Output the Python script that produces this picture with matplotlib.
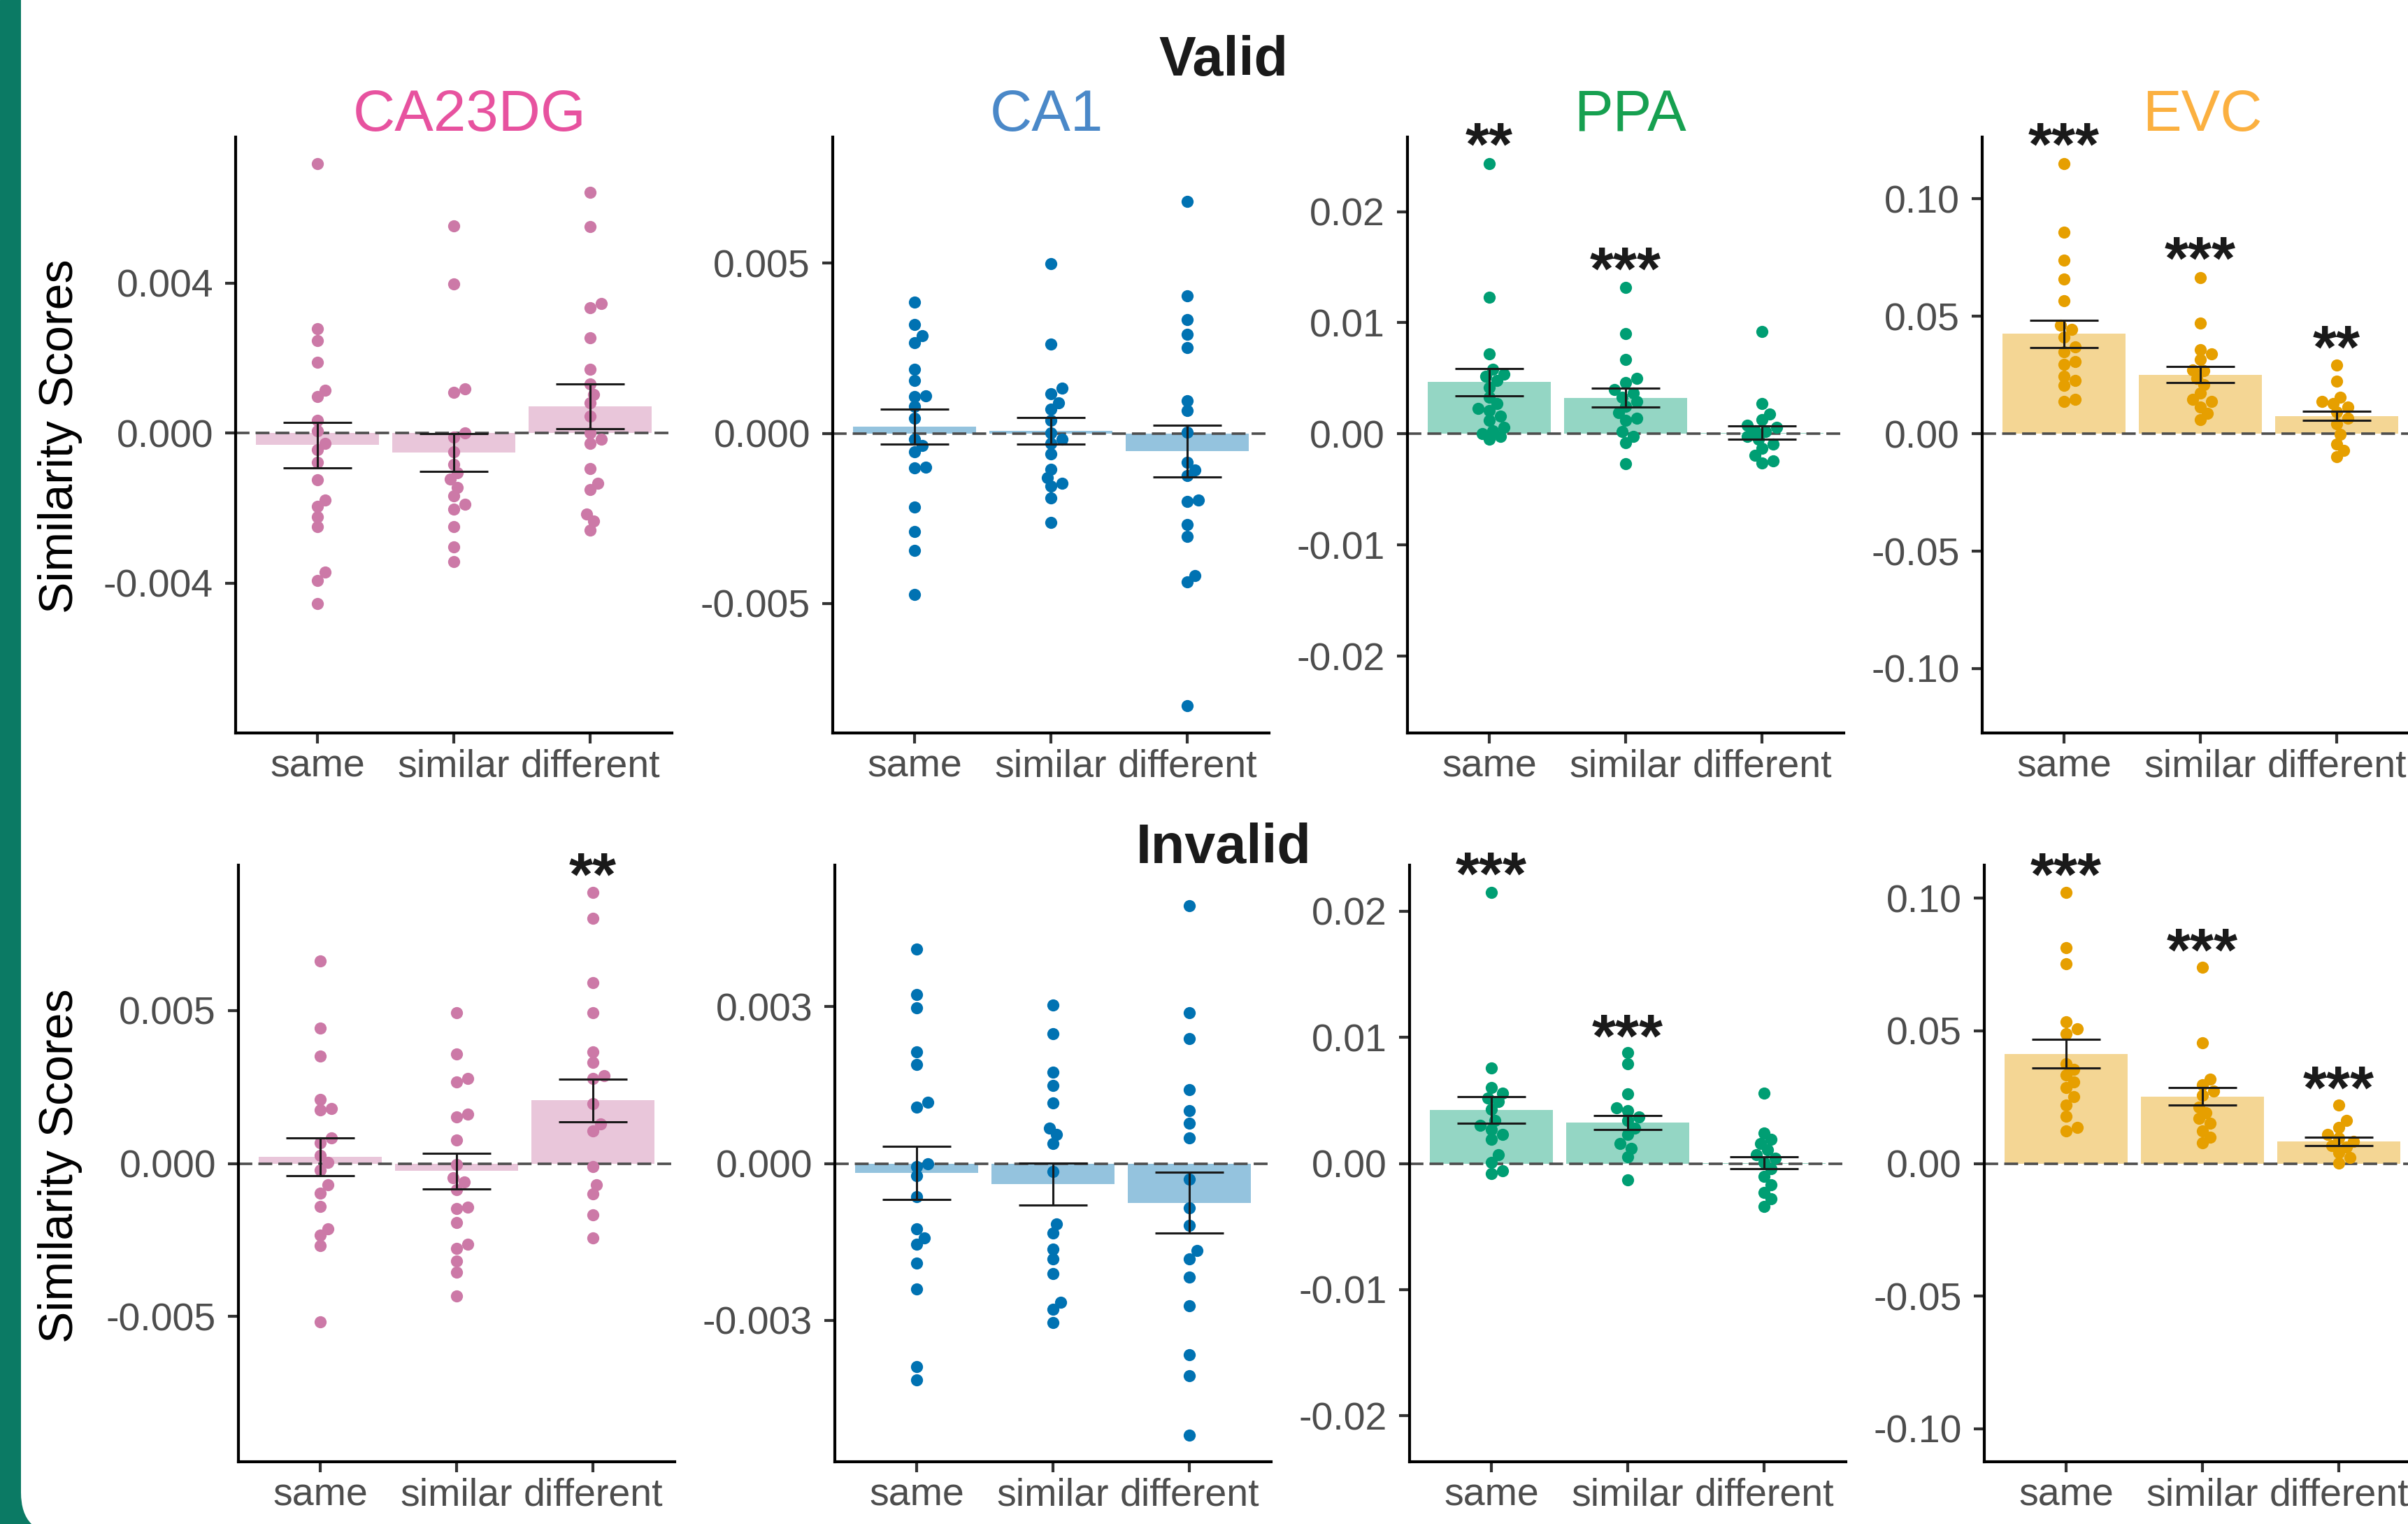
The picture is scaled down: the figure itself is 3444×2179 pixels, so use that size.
import numpy as np
import matplotlib
matplotlib.use('Agg')
import matplotlib.pyplot as plt
from matplotlib.patches import Rectangle, FancyBboxPatch

plt.rcParams['font.family'] = ['Liberation Sans', 'DejaVu Sans']
plt.rcParams['axes.unicode_minus'] = False

W, H, DPI = 3444, 2179, 100

conditions = ['same', 'similar', 'different']
regions = ['CA23DG', 'CA1', 'PPA', 'EVC']
title_colors = ['#E7529F', '#4A88C8', '#16A050', '#FBB040']
dot_colors = ['#CC79A7', '#0072B2', '#009E73', '#E69F00']

# ---- Valid ----
valid_ca23dg = [
    [0.00719, 0.00279, 0.00247, 0.0019, 0.00114, 0.00097, 0.00035, 0.00007, -0.00027, -0.00044,
     -0.00078, -0.00125, -0.00179, -0.00196, -0.00224, -0.0025, -0.00371, -0.00393, -0.00455],
    [0.00553, 0.00398, 0.00119, 0.00108, 0.00001, -0.0001, -0.0005, -0.00083, -0.00106, -0.00123,
     -0.00145, -0.00168, -0.0019, -0.00202, -0.0025, -0.00303, -0.00343],
    [0.00643, 0.00551, 0.00345, 0.00334, 0.00255, 0.0017, 0.00131, 0.00103, 0.0008, 0.00046, 0.0,
     -0.00016, -0.00027, -0.00095, -0.00134, -0.00151, -0.00216, -0.00235, -0.00258],
]
valid_ca23dg_mean = [-0.00032, -0.00052, 0.00072]
valid_ca23dg_se = [0.0006, 0.0005, 0.0006]

valid_ca1 = [
    [0.00385, 0.0032, 0.00286, 0.00266, 0.00188, 0.00155, 0.00111, 0.00107, 0.0008, 0.00045,
     -0.00017, -0.00036, -0.00055, -0.00099, -0.00102, -0.00217, -0.00288, -0.00344, -0.00473],
    [0.00499, 0.00262, 0.00132, 0.00117, 0.00089, 0.0007, 0.00039, 0.00001, -0.00017, -0.0003,
     -0.00061, -0.00105, -0.0013, -0.00146, -0.00155, -0.0019, -0.00261],
    [0.00681, 0.00403, 0.00334, 0.00291, 0.00251, 0.00095, 0.00067, 0.00004, -0.00086, -0.00107,
     -0.00125, -0.00195, -0.002, -0.00267, -0.00302, -0.00417, -0.00436, -0.00799],
]
valid_ca1_mean = [0.00019, 0.00008, -0.00053]
valid_ca1_se = [0.00051, 0.00039, 0.00076]

valid_ppa = [
    [0.0243, 0.0123, 0.0072, 0.0058, 0.0054, 0.0052, 0.0048, 0.0042, 0.0033, 0.0027, 0.0023,
     0.0021, 0.0016, 0.0012, 0.0006, 0.0003, 0.0, -0.0002, -0.0005],
    [0.0132, 0.009, 0.0067, 0.005, 0.0046, 0.004, 0.0037, 0.0033, 0.0029, 0.0025, 0.0019,
     0.0014, 0.0012, 0.0002, -0.0002, -0.0008, -0.0027],
    [0.0092, 0.0027, 0.0018, 0.0013, 0.0008, 0.0006, 0.0003, 0.0002, -0.0002, -0.0005,
     -0.0009, -0.0013, -0.0019, -0.0024, -0.0026],
]
valid_ppa_mean = [0.00465, 0.00325, 0.0001]
valid_ppa_se = [0.00125, 0.00085, 0.0006]

valid_evc = [
    [0.1149, 0.0857, 0.074, 0.0659, 0.0566, 0.0461, 0.0443, 0.041, 0.0371, 0.0349, 0.0308,
     0.0295, 0.0245, 0.0227, 0.0205, 0.0146, 0.0137],
    [0.0663, 0.0472, 0.0357, 0.0339, 0.0317, 0.0272, 0.0267, 0.0236, 0.0209, 0.0173, 0.0146,
     0.0137, 0.0115, 0.0086, 0.0061],
    [0.0292, 0.0223, 0.0155, 0.0137, 0.0128, 0.0115, 0.0092, 0.0065, 0.0043, -0.0004,
     -0.0043, -0.007, -0.0097],
]
valid_evc_mean = [0.0425, 0.0252, 0.0076]
valid_evc_se = [0.0058, 0.0033, 0.002]

# ---- Invalid ----
invalid_ca23dg = [
    [0.00662, 0.00442, 0.00352, 0.0021, 0.0018, 0.00174, 0.00084, 0.00067, 0.00027, 0.00004,
     -0.00022, -0.0007, -0.00097, -0.00141, -0.00213, -0.00235, -0.00268, -0.00517],
    [0.00492, 0.00357, 0.00277, 0.00267, 0.00162, 0.00151, 0.00076, -0.00003, -0.00048, -0.0006,
     -0.00085, -0.00142, -0.00148, -0.00193, -0.00265, -0.00277, -0.00318, -0.00355, -0.00433],
    [0.00886, 0.00802, 0.00592, 0.00492, 0.00364, 0.0033, 0.00286, 0.00277, 0.00196, 0.00129,
     0.00106, -0.0001, -0.0007, -0.001, -0.00168, -0.00243],
]
invalid_ca23dg_mean = [0.00022, -0.00025, 0.00206]
invalid_ca23dg_se = [0.00062, 0.00058, 0.0007]

invalid_ca1 = [
    [0.00409, 0.00323, 0.00298, 0.00213, 0.00189, 0.00117, 0.00108, 0.0, -0.00006, -0.00024,
     -0.00063, -0.00125, -0.00142, -0.00155, -0.0019, -0.0024, -0.00388, -0.00414],
    [0.00303, 0.00248, 0.00175, 0.00149, 0.00115, 0.00068, 0.00055, 0.00038, -0.00015, -0.00116,
     -0.00133, -0.00164, -0.00182, -0.0021, -0.00265, -0.00278, -0.00304],
    [0.00492, 0.00288, 0.00239, 0.00141, 0.00101, 0.00077, 0.00049, -0.0003, -0.00085, -0.00118,
     -0.00166, -0.00182, -0.00217, -0.00272, -0.00366, -0.00405, -0.00519],
]
invalid_ca1_mean = [-0.00018, -0.00039, -0.00075]
invalid_ca1_se = [0.00051, 0.0004, 0.00058]

invalid_ppa = [
    [0.0215, 0.0076, 0.006, 0.0056, 0.0052, 0.0049, 0.0043, 0.0034, 0.003, 0.0027, 0.0023,
     0.0019, 0.0007, 0.0001, -0.0006, -0.0008],
    [0.0088, 0.0079, 0.0055, 0.0044, 0.0042, 0.0037, 0.0034, 0.0028, 0.0023, 0.0016, 0.0012,
     0.0005, -0.0013],
    [0.0056, 0.0024, 0.0019, 0.0016, 0.0011, 0.0007, 0.0004, 0.0001, -0.0004, -0.001, -0.0017,
     -0.0023, -0.0028, -0.0034],
]
invalid_ppa_mean = [0.00425, 0.00325, 0.00005]
invalid_ppa_se = [0.00105, 0.00055, 0.00045]

invalid_evc = [
    [0.1022, 0.0813, 0.0754, 0.0533, 0.0507, 0.049, 0.0377, 0.0355, 0.0334, 0.0308, 0.0285,
     0.0251, 0.0221, 0.0178, 0.0135, 0.0123],
    [0.074, 0.0455, 0.0317, 0.0296, 0.0273, 0.0256, 0.0213, 0.0192, 0.017, 0.0152, 0.0123,
     0.01, 0.0078],
    [0.0221, 0.0161, 0.0135, 0.0109, 0.0095, 0.0083, 0.0066, 0.0061, 0.004, 0.0022, 0.0002],
]
invalid_evc_mean = [0.0414, 0.0252, 0.0083]
invalid_evc_se = [0.0053, 0.0033, 0.0017]

# significance stars (label, height in data units) per condition
valid_stars = [
    [None, None, None],
    [None, None, None],
    [('**', 0.0273), ('***', 0.0161), None],
    [('***', 0.1290), ('***', 0.0806), ('**', 0.0428)],
]
invalid_stars = [
    [None, None, ('**', 0.00990)],
    [None, None, None],
    [('***', 0.0241), ('***', 0.0112), None],
    [('***', 0.1142), ('***', 0.0856), ('***', 0.0337)],
]

valid_ticks = [
    [-0.004, 0.0, 0.004], [-0.005, 0.0, 0.005],
    [-0.02, -0.01, 0.0, 0.01, 0.02], [-0.10, -0.05, 0.0, 0.05, 0.10],
]
invalid_ticks = [
    [-0.005, 0.0, 0.005], [-0.003, 0.0, 0.003],
    [-0.02, -0.01, 0.0, 0.01, 0.02], [-0.10, -0.05, 0.0, 0.05, 0.10],
]
tick_fmt = ['%.3f', '%.3f', '%.2f', '%.2f']
valid_ylim = [(-0.0080, 0.0079), (-0.0088, 0.0087), (-0.0269, 0.0267), (-0.1274, 0.1263)]
invalid_ylim = [(-0.00975, 0.00975), (-0.0057, 0.0057), (-0.02366, 0.02366), (-0.1125, 0.1125)]

rows = [
    dict(data=[valid_ca23dg, valid_ca1, valid_ppa, valid_evc],
         mean=[valid_ca23dg_mean, valid_ca1_mean, valid_ppa_mean, valid_evc_mean],
         se=[valid_ca23dg_se, valid_ca1_se, valid_ppa_se, valid_evc_se],
         stars=valid_stars, ticks=valid_ticks, ylim=valid_ylim,
         lefts=[337, 1191, 2013, 2835], top=196, bottom=1048),
    dict(data=[invalid_ca23dg, invalid_ca1, invalid_ppa, invalid_evc],
         mean=[invalid_ca23dg_mean, invalid_ca1_mean, invalid_ppa_mean, invalid_evc_mean],
         se=[invalid_ca23dg_se, invalid_ca1_se, invalid_ppa_se, invalid_evc_se],
         stars=invalid_stars, ticks=invalid_ticks, ylim=invalid_ylim,
         lefts=[341, 1194, 2016, 2838], top=1237, bottom=2090),
]
AX_W = 624
DOT = 17.5  # dot diameter in px


def swarm(vals, px_per_y, px_per_x):
    # simple beeswarm: push points sideways until they do not overlap much
    vals = np.asarray(vals)
    order = np.argsort(vals)
    placed = []
    offs = np.zeros(len(vals))
    step = DOT * 0.3
    for i in order:
        y = vals[i] * px_per_y
        for k in [0, 1, -1, 2, -2, 3, -3, 4, -4, 5, -5]:
            x = k * step
            if all((x - a) ** 2 + (y - b) ** 2 >= (0.75 * DOT) ** 2 for a, b in placed):
                break
        placed.append((x, y))
        offs[i] = x / px_per_x
    return offs


fig = plt.figure(figsize=(W / DPI, H / DPI), dpi=DPI)

# background with the green rounded frame on the left
bg = fig.add_axes([0, 0, 1, 1], zorder=-10)
bg.set_xlim(0, W)
bg.set_ylim(H, 0)
bg.axis('off')
bg.add_patch(Rectangle((0, 0), 120, H, color='#0B7A64'))
bg.add_patch(FancyBboxPatch((30, -200), W + 200, H + 215,
                            boxstyle='round,pad=0,rounding_size=60', fc='white', ec='none'))

bg.text(1750, 108, 'Valid', fontsize=57, fontweight='bold', color='#1a1a1a',
        ha='center', va='baseline')
bg.text(1750, 1234, 'Invalid', fontsize=57, fontweight='bold', color='#1a1a1a',
        ha='center', va='baseline')
for name, col, xc in zip(regions, title_colors, [672, 1497, 2332, 3150]):
    bg.text(xc, 187, name, fontsize=60, color=col, ha='center', va='baseline')
for yc in [624, 1667]:
    bg.text(86, yc, 'Similarity Scores', fontsize=49, color='black', rotation=90,
            ha='center', va='center')

x = np.arange(1, 4)
for row in rows:
    for j in range(4):
        left = row['lefts'][j]
        ax = fig.add_axes([left / W, 1 - row['bottom'] / H, AX_W / W,
                           (row['bottom'] - row['top']) / H])
        ax.set_facecolor('none')
        lo, hi = row['ylim'][j]
        ax.set_xlim(0.4, 3.6)
        ax.set_ylim(lo, hi)
        px_per_y = (row['bottom'] - row['top']) / (hi - lo)
        px_per_x = AX_W / 3.2

        ax.bar(x, row['mean'][j], width=0.9, color=dot_colors[j], alpha=0.42,
               linewidth=0, zorder=1)
        ax.axhline(0, color='#4d4d4d', lw=2.6, linestyle=(0, (5.5, 2.4)), zorder=2)
        for k in range(3):
            vals = row['data'][j][k]
            offs = swarm(vals, px_per_y, px_per_x)
            ax.scatter(x[k] + offs, vals, s=155, color=dot_colors[j], linewidths=0, zorder=3)
        ax.errorbar(x, row['mean'][j], yerr=row['se'][j], fmt='none', ecolor='#1a1a1a',
                    elinewidth=2.2, capsize=35, capthick=2.2, zorder=4)
        for k, st in enumerate(row['stars'][j]):
            if st is None:
                continue
            ax.annotate(st[0], (x[k], st[1]), xytext=(0, -0.56 * 63), textcoords='offset points',
                        ha='center', va='baseline', fontsize=63, fontweight='bold',
                        color='#1a1a1a', annotation_clip=False, zorder=5)

        ticks = row['ticks'][j]
        ax.set_yticks(ticks)
        ax.set_yticklabels([tick_fmt[j] % t for t in ticks])
        ax.set_xticks(x)
        ax.set_xticklabels(conditions)
        for side in ['top', 'right']:
            ax.spines[side].set_visible(False)
        for side in ['left', 'bottom']:
            ax.spines[side].set_linewidth(3)
            ax.spines[side].set_color('black')
        ax.tick_params(axis='both', length=11, width=3, color='#333333',
                       labelcolor='#4D4D4D', labelsize=40)
        ax.tick_params(axis='y', pad=12)
        ax.tick_params(axis='x', pad=5)

fig.savefig('out.png', dpi=DPI)
